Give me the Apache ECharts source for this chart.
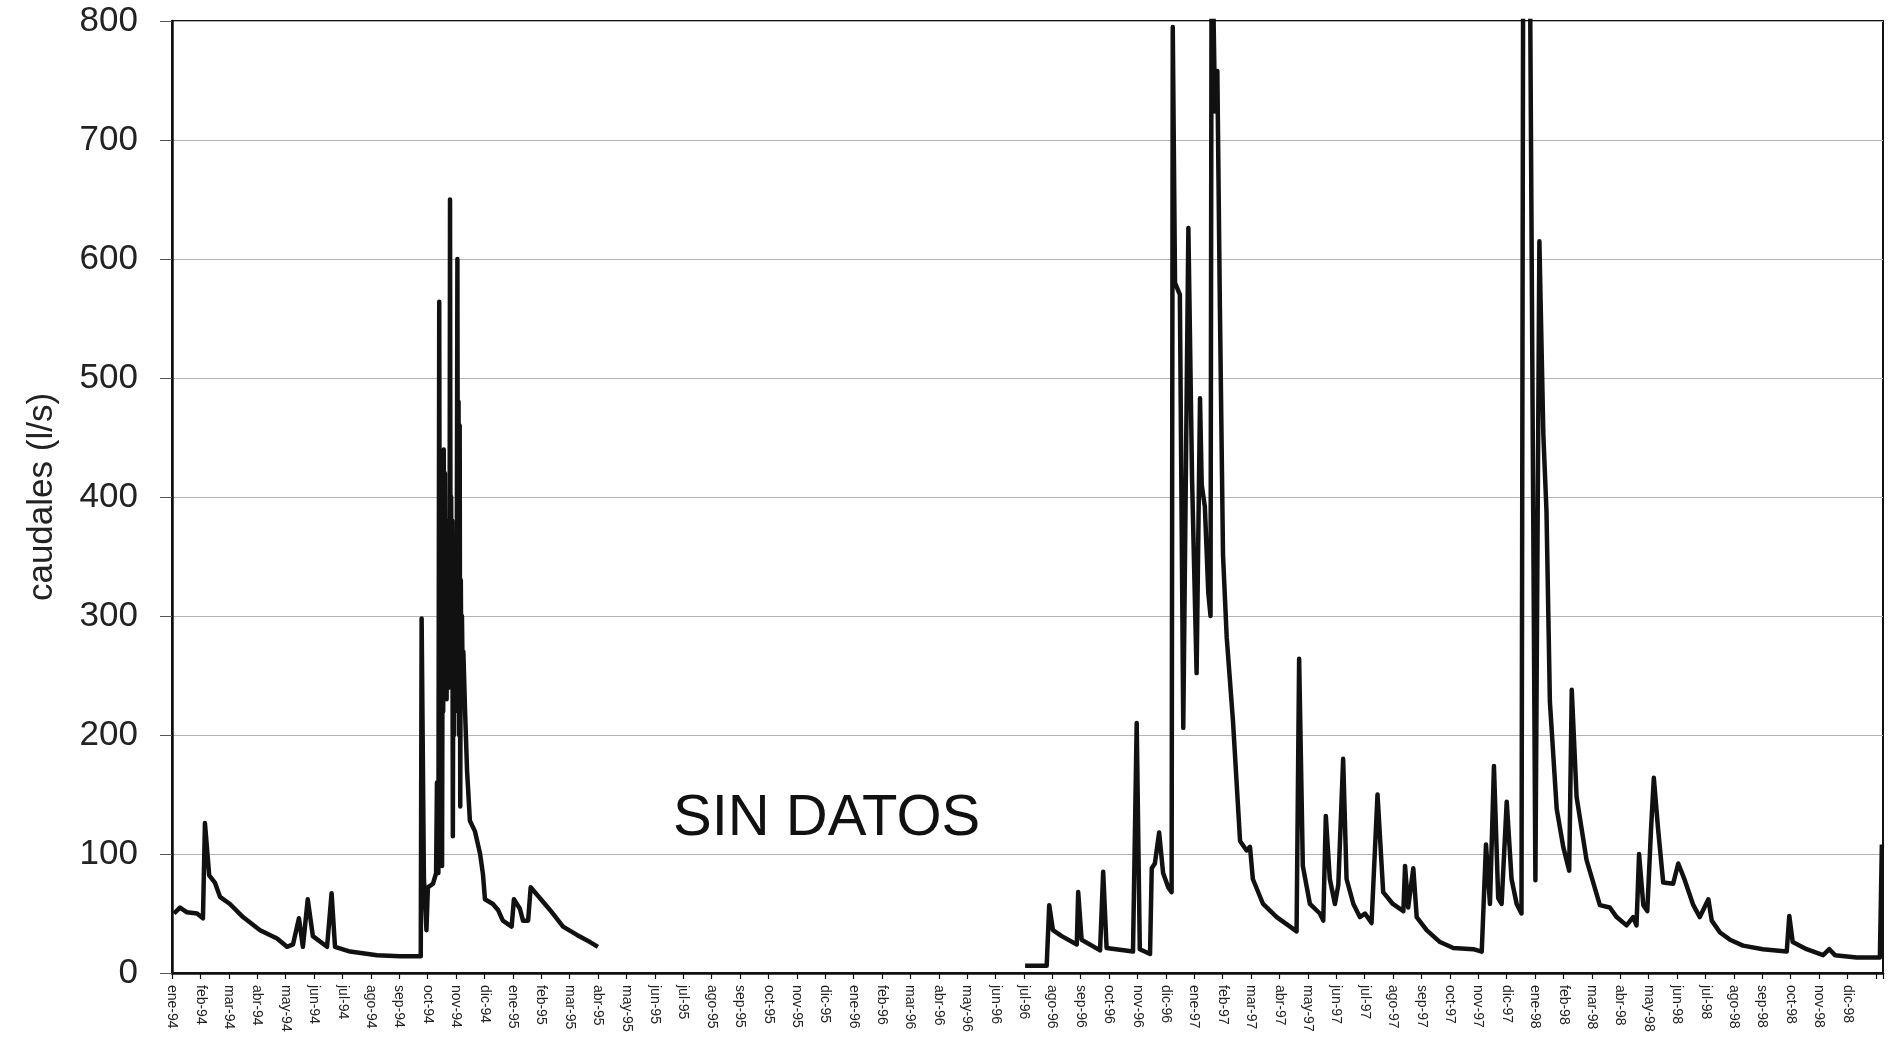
<!DOCTYPE html>
<html>
<head>
<meta charset="utf-8">
<script src="https://cdn.jsdelivr.net/npm/echarts@6/dist/echarts.min.js"></script>
<style>
html,body{margin:0;padding:0;background:#fff;}
#chart{width:1899px;height:1049px;}
</style>
</head>
<body>
<div id="chart"></div>
<script>
// Month tick labels (x = months since ene-94)
const meses = [
  'ene-94','feb-94','mar-94','abr-94','may-94','jun-94','jul-94','ago-94','sep-94','oct-94','nov-94','dic-94',
  'ene-95','feb-95','mar-95','abr-95','may-95','jun-95','jul-95','ago-95','sep-95','oct-95','nov-95','dic-95',
  'ene-96','feb-96','mar-96','abr-96','may-96','jun-96','jul-96','ago-96','sep-96','oct-96','nov-96','dic-96',
  'ene-97','feb-97','mar-97','abr-97','may-97','jun-97','jul-97','ago-97','sep-97','oct-97','nov-97','dic-97',
  'ene-98','feb-98','mar-98','abr-98','may-98','jun-98','jul-98','ago-98','sep-98','oct-98','nov-98','dic-98'
];
const yTicks = [0, 100, 200, 300, 400, 500, 600, 700, 800];

// Period 1: ene-94 .. abr-95 (time in months since 1 Jan 1994)
const tiempo1 = [0.07,0.28,0.53,0.88,1.09,1.16,1.31,1.51,1.69,2.04,2.50,3.10,3.70,4.05,4.26,4.47,4.61,4.78,4.96,5.46,5.62,5.74,6.27,7.22,8.03,8.76,8.79,8.87,8.96,9.01,9.19,9.30,9.33,9.38,
  9.41,9.43,9.45,9.47,9.49,9.51,9.53,9.55,9.57,9.59,9.61,9.63,9.65,9.67,9.69,9.71,9.74,9.77,9.79,9.81,9.83,9.85,9.87,9.89,9.91,9.93,9.95,9.97,9.99,10.02,10.05,10.07,10.09,10.11,10.13,10.15,10.17,10.19,10.21,10.23,10.26,
  10.32,10.39,10.49,10.67,10.85,10.95,11.02,11.30,11.48,11.65,11.96,12.04,12.25,12.36,12.54,12.63,13.31,13.77,14.26,14.72,15.00];
const caudal1 = [50,55,51,50,46,126,82,76,64,58,47,36,29,22,24,46,22,62,31,22,67,22,18,15,14,14,298,80,36,72,75,84,160,84,
  564,250,430,180,420,90,320,220,440,240,420,250,380,230,360,250,330,240,650,280,400,250,380,115,340,200,350,220,300,250,600,270,480,200,460,140,330,240,300,260,270,
  220,170,128,119,100,83,62,58,53,44,39,62,54,44,44,72,53,39,32,26,22];

// Period 2: jul-96 .. dic-98
const tiempo2 = [30.04,30.80,30.89,31.02,31.33,31.86,31.91,32.03,32.68,32.79,32.91,33.84,33.97,34.08,34.44,34.50,34.61,34.76,34.90,35.08,35.20,35.24,35.32,35.49,35.61,35.79,35.92,36.08,36.20,36.26,36.37,36.49,36.57,36.61,36.73,36.81,36.90,37.01,37.14,37.36,37.61,37.84,37.96,38.06,38.42,38.90,39.37,39.60,39.69,39.82,40.07,40.42,40.54,40.63,40.77,40.95,41.07,41.24,41.36,41.60,41.83,42.01,42.24,42.45,42.65,42.99,43.36,43.42,43.53,43.71,43.83,44.18,44.65,45.12,45.82,46.12,46.27,46.41,46.55,46.70,46.82,47.00,47.17,47.35,47.52,47.59,47.78,48.01,48.15,48.29,48.40,48.52,48.76,48.99,49.20,49.29,49.46,49.81,50.28,50.63,50.87,51.22,51.45,51.57,51.66,51.81,51.95,52.08,52.18,52.33,52.51,52.86,53.04,53.27,53.57,53.80,54.10,54.22,54.51,54.86,55.32,56.02,56.86,56.95,57.07,57.56,58.14,58.36,58.56,59.32,60.14,60.21];
const caudal2 = [6,6,57,36,31,24,68,28,19,85,21,18,210,20,16,88,92,118,84,72,68,795,580,570,206,626,415,252,483,410,392,320,300,900,724,758,559,351,282,212,111,103,106,79,58,47,39,35,264,90,58,50,44,132,79,58,74,180,79,58,47,50,42,150,68,58,52,90,55,88,47,36,26,21,20,18,108,58,174,63,58,144,79,58,50,1000,1000,78,615,452,388,228,138,106,86,238,148,95,57,55,47,40,47,40,100,57,52,120,164,121,76,75,92,78,57,47,62,44,34,28,23,20,18,48,26,20,15,20,15,13,13,108];

const pairs = (t, v) => t.map((x, i) => [x, v[i]]);
const FONT = "'Liberation Sans', Arial, sans-serif";

const chart = echarts.init(document.getElementById('chart'), null, {renderer: 'canvas'});
chart.setOption({
  animation: false,
  backgroundColor: '#ffffff',
  grid: {left: 172, right: 16, top: 21, bottom: 76, show: true, borderColor: '#111', borderWidth: 2, backgroundColor: 'transparent'},
  xAxis: {
    type: 'value', min: 0, max: 60.25, interval: 1,
    axisLine: {show: true, lineStyle: {color: '#111', width: 2.5}},
    axisTick: {show: true, inside: false, length: 6, lineStyle: {color: '#111', width: 1.2}},
    splitLine: {show: false},
    axisLabel: {
      rotate: -90, margin: 12, fontSize: 14, color: '#222', fontFamily: FONT,
      showMinLabel: true, showMaxLabel: true,
      formatter: function (v) {
        const i = Math.round(v);
        return (Math.abs(v - i) < 1e-6 && i >= 0 && i < meses.length) ? meses[i] : '';
      }
    }
  },
  yAxis: {
    type: 'value', min: yTicks[0], max: yTicks[yTicks.length - 1], interval: 100,
    name: 'caudales (l/s)', nameLocation: 'middle', nameRotate: 90, nameGap: 112,
    nameTextStyle: {fontSize: 35, color: '#222', fontFamily: FONT},
    axisLine: {show: true, lineStyle: {color: '#111', width: 2.5}},
    axisTick: {show: true, inside: false, length: 12, lineStyle: {color: '#555', width: 1}},
    splitLine: {show: true, lineStyle: {color: '#b4b4b4', width: 1.2}},
    axisLabel: {fontSize: 35, color: '#222', fontFamily: FONT, margin: 34}
  },
  graphic: [{
    type: 'text', left: 830 - 157, top: 818 - 28,
    style: {text: 'SIN DATOS', font: "58px 'Liberation Sans', Arial, sans-serif", fill: '#111'}
  }],
  series: [
    {type: 'line', data: pairs(tiempo1, caudal1), showSymbol: false, symbol: 'none', clip: true,
     lineStyle: {color: '#111', width: 4.5, join: 'round'}},
    {type: 'line', data: pairs(tiempo2, caudal2), showSymbol: false, symbol: 'none', clip: true,
     lineStyle: {color: '#111', width: 4.5, join: 'round'}}
  ]
});
</script>
</body>
</html>
